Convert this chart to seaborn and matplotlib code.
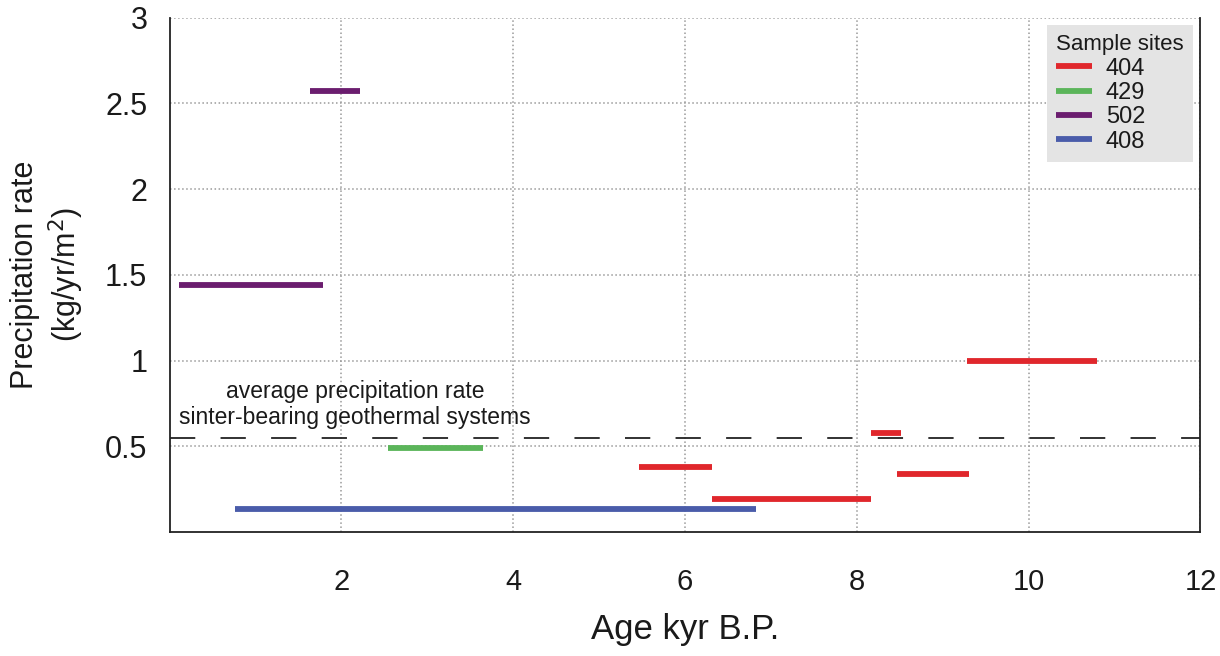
import pandas as pd
import matplotlib
matplotlib.use("Agg")
import matplotlib.pyplot as plt
import seaborn as sns

# segments: sample site, start age, end age, precipitation rate
sites = ['404', '404', '404', '404', '404', '429', '502', '502', '408']
age_start = [5.47, 6.31, 8.17, 8.47, 9.28, 2.54, 1.64, 0.11, 0.76]
age_end = [6.31, 8.16, 8.51, 9.30, 10.79, 3.65, 2.22, 1.79, 6.83]
rate = [0.38, 0.193, 0.578, 0.339, 1.0, 0.49, 2.575, 1.44, 0.135]

site_order = ['404', '429', '502', '408']
site_colors = ['#e0272c', '#5bb55a', '#6b1d6f', '#4a5caa']
avg_rate = 0.55

x_ticks = [2, 4, 6, 8, 10, 12]
y_ticks = [0.5, 1, 1.5, 2, 2.5, 3]

rows = []
for i, (s, a, b, r) in enumerate(zip(sites, age_start, age_end, rate)):
    rows.append({'site': s, 'age': a, 'rate': r, 'seg': i})
    rows.append({'site': s, 'age': b, 'rate': r, 'seg': i})
df = pd.DataFrame(rows)

sns.set_style("white")
plt.rcParams['font.family'] = ['Liberation Sans', 'DejaVu Sans']
plt.rcParams['text.color'] = '#1a1a1a'
plt.rcParams['axes.labelcolor'] = '#1a1a1a'
plt.rcParams['xtick.color'] = '#1a1a1a'
plt.rcParams['ytick.color'] = '#1a1a1a'

fig = plt.figure(figsize=(12.2, 6.56), dpi=100)
ax = fig.add_axes([0.139, 0.189, 0.845, 0.784])

ax.grid(True, linestyle=':', color='#9a9a9a', linewidth=1.1)
ax.set_axisbelow(True)

ax.axhline(avg_rate, color='#222222', linewidth=1.3, dashes=(14, 14), zorder=2)

sns.lineplot(data=df, x='age', y='rate', hue='site', units='seg', estimator=None,
             hue_order=site_order, palette=site_colors, linewidth=4.2,
             solid_capstyle='butt', ax=ax, zorder=3)

ax.text(2.16, 0.6, "average precipitation rate\nsinter-bearing geothermal systems",
        ha='center', va='bottom', fontsize=16.5, linespacing=1.2)

ax.set_xlim(0, 12)
ax.set_ylim(0, 3)
ax.set_xticks(x_ticks)
ax.set_xticklabels([str(t) for t in x_ticks])
ax.set_yticks(y_ticks)
ax.set_yticklabels(['0.5', '1', '1.5', '2', '2.5', '3'])
ax.tick_params(axis='x', length=0, pad=26, labelsize=21)
ax.tick_params(axis='y', length=0, pad=16, labelsize=22)

ax.set_xlabel("Age kyr B.P.", fontsize=25, labelpad=12)
ax.set_ylabel("Precipitation rate\n(kg/yr/m$^2$)", fontsize=22, labelpad=14)

for side in ['left', 'bottom', 'right']:
    ax.spines[side].set_visible(True)
    ax.spines[side].set_color('#222222')
    ax.spines[side].set_linewidth(1.3)
ax.spines['top'].set_visible(False)

leg = ax.legend(title='Sample sites', loc='upper right', fontsize=17, title_fontsize=16,
                frameon=True, fancybox=False, facecolor='#e4e4e4', edgecolor='none',
                framealpha=1, handlelength=1.5, borderaxespad=0.3, labelspacing=0.1,
                handletextpad=0.6, borderpad=0.4)
leg._legend_box.align = 'left'

fig.savefig('out.png', dpi=100)
